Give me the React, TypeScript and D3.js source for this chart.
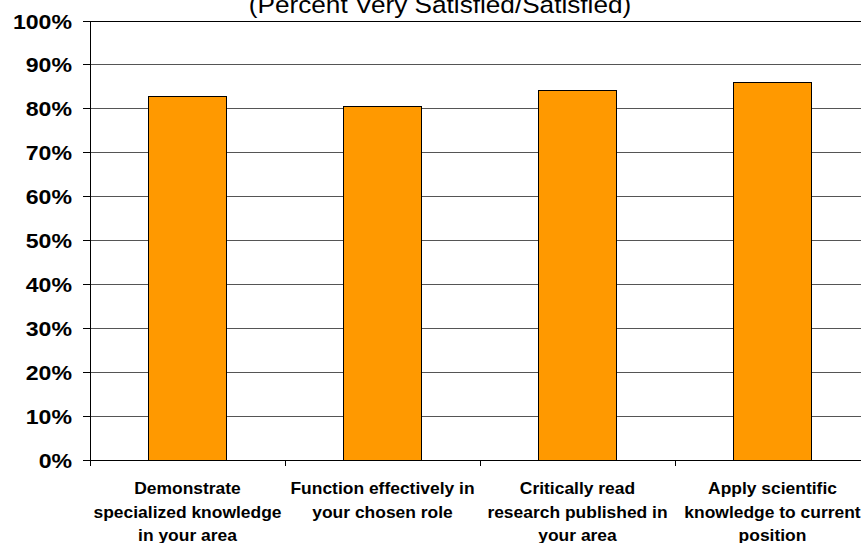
import React from "react";
import * as d3 from "d3";

const categories: string[][] = [
  ["Demonstrate", "specialized knowledge", "in your area"],
  ["Function effectively in", "your chosen role"],
  ["Critically read", "research published in", "your area"],
  ["Apply scientific", "knowledge to current", "position"],
];
const values: number[] = [0.829, 0.806, 0.842, 0.859];
const yTicks: number[] = [0, 0.1, 0.2, 0.3, 0.4, 0.5, 0.6, 0.7, 0.8, 0.9, 1.0];
const title = "(Percent Very Satisfied/Satisfied)";

const W = 861;
const H = 543;
const left = 90;
const right = 870;
const top = 21;
const bottom = 460;
const font = "'Liberation Sans', Arial, Helvetica, sans-serif";
const sx = 1.1;

export default function App() {
  const keys = categories.map((_, i) => String(i));
  const x = d3.scaleBand<string>().domain(keys).range([left, right]).padding(0);
  const y = d3.scaleLinear().domain([0, 1]).range([bottom, top]);
  const bw = x.bandwidth() * 0.4;
  const fmt = d3.format(".0%");

  return (
    <svg
      width={W}
      height={H}
      style={{ position: "absolute", left: 0, top: 0, display: "block", background: "#fff" }}
      fontFamily={font}
    >
      <rect x={0} y={0} width={W} height={H} fill="#fff" />
      {/* gridlines */}
      {yTicks.map((t) => (
        <line
          key={"g" + t}
          x1={left}
          x2={right}
          y1={y(t)}
          y2={y(t)}
          stroke={t === 1 ? "#000" : t === 0 ? "#000" : "#555"}
          strokeWidth={1}
          shapeRendering="crispEdges"
        />
      ))}
      {/* bars */}
      {values.map((v, i) => {
        const cx = (x(String(i)) as number) + x.bandwidth() / 2;
        return (
          <rect
            key={"b" + i}
            x={cx - bw / 2}
            y={y(v)}
            width={bw}
            height={y(0) - y(v)}
            fill="#FF9900"
            stroke="#000"
            strokeWidth={1}
            shapeRendering="crispEdges"
          />
        );
      })}
      {/* axes */}
      <line x1={left} x2={left} y1={top} y2={bottom + 6} stroke="#000" shapeRendering="crispEdges" />
      <line x1={left} x2={right} y1={bottom} y2={bottom} stroke="#000" shapeRendering="crispEdges" />
      {yTicks.map((t) => (
        <line key={"yt" + t} x1={left - 7} x2={left} y1={y(t)} y2={y(t)} stroke="#000" shapeRendering="crispEdges" />
      ))}
      {keys.map((k) => (
        <line
          key={"xt" + k}
          x1={(x(k) as number) + x.bandwidth()}
          x2={(x(k) as number) + x.bandwidth()}
          y1={bottom}
          y2={bottom + 6}
          stroke="#000"
          shapeRendering="crispEdges"
        />
      ))}
      {/* y labels */}
      {yTicks.map((t) => (
        <text
          key={"yl" + t}
          transform={`translate(${left - 18},${y(t) + 7.5}) scale(${sx},1)`}
          textAnchor="end"
          fontSize={21}
          fontWeight="bold"
          fill="#000"
        >
          {fmt(t)}
        </text>
      ))}
      {/* category labels */}
      {categories.map((lines, i) => {
        const cx = (x(String(i)) as number) + x.bandwidth() / 2;
        return lines.map((ln, j) => (
          <text
            key={"c" + i + "-" + j}
            transform={`translate(${cx},${494 + j * 23.5}) scale(1.07,1)`}
            textAnchor="middle"
            fontSize={16.3}
            fontWeight="bold"
            fill="#000"
          >
            {ln}
          </text>
        ));
      })}
      {/* title */}
      <text
        transform={`translate(440,13) scale(1.1,1)`}
        textAnchor="middle"
        fontSize={23.8}
        fill="#000"
      >
        {title}
      </text>
    </svg>
  );
}
